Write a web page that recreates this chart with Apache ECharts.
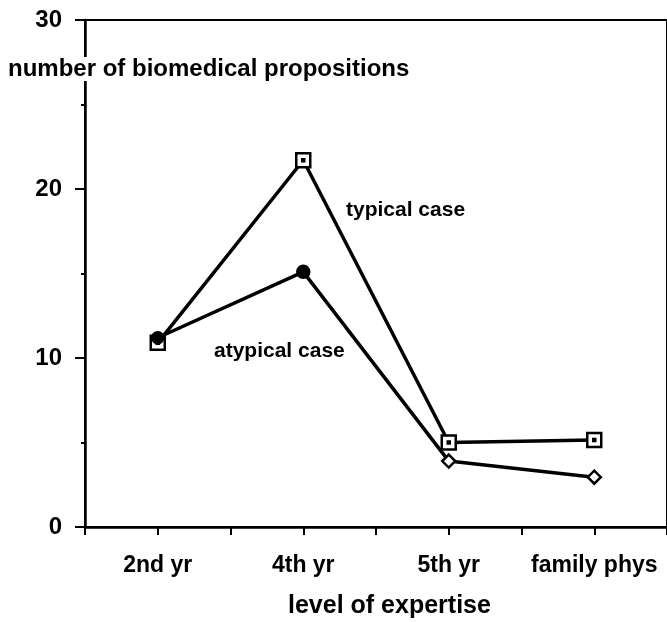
<!DOCTYPE html>
<html>
<head>
<meta charset="utf-8">
<script src="https://cdn.jsdelivr.net/npm/echarts@6/dist/echarts.min.js"></script>
<style>
html,body{margin:0;padding:0;background:#fff;}
#chart{width:667px;height:622px;}
</style>
</head>
<body>
<div id="chart"></div>
<script>
const categories = ['2nd yr', '4th yr', '5th yr', 'family phys'];
const typicalCase = [10.9, 21.7, 5.0, 5.15];
const atypicalCase = [11.2, 15.1, 3.9, 2.95];
const yTicks = [0, 10, 20, 30];

const FONT = '"Liberation Sans", Arial, sans-serif';
const squareDot = 'path://M0,0 L14,0 L14,14 L0,14 Z M6,6 L8,6 L8,8 L6,8 Z';
const atypSymbols = ['circle', 'circle', 'diamond', 'diamond'];
const atypFill = ['#000', '#000', '#fff', '#fff'];
const atypSize = [11, 12, 13, 13];

const chart = echarts.init(document.getElementById('chart'), null, {renderer: 'canvas'});

const option = {
  backgroundColor: '#fff',
  animation: false,
  grid: {
    left: 85, right: -7, top: 20, bottom: 95,
    show: true, borderColor: '#000', borderWidth: 2, backgroundColor: 'transparent'
  },
  xAxis: [
    {
      type: 'category', data: categories, boundaryGap: true,
      axisLine: {lineStyle: {color: '#000', width: 2.5}},
      axisTick: {show: true, alignWithLabel: false, length: 8, lineStyle: {color: '#000', width: 2}},
      axisLabel: {color: '#000', fontFamily: FONT, fontWeight: 'bold', fontSize: 23, margin: 27, interval: 0},
      splitLine: {show: false}
    },
    {
      type: 'category', data: categories, boundaryGap: true, position: 'bottom',
      axisLine: {show: false},
      axisTick: {show: true, alignWithLabel: true, length: 8, lineStyle: {color: '#000', width: 2}},
      axisLabel: {show: false},
      splitLine: {show: false}
    }
  ],
  yAxis: {
    type: 'value', min: yTicks[0], max: yTicks[yTicks.length - 1], interval: 10,
    axisLine: {show: true, lineStyle: {color: '#000', width: 2.5}},
    axisTick: {show: true, inside: false, length: 10, lineStyle: {color: '#000', width: 2}},
    minorTick: {show: true, splitNumber: 2, length: 4, lineStyle: {color: '#000', width: 2}},
    axisLabel: {color: '#000', fontFamily: FONT, fontWeight: 'bold', fontSize: 24, margin: 23},
    splitLine: {show: false}
  },
  series: [
    {
      name: 'typical case', type: 'line', xAxisIndex: 0,
      data: typicalCase,
      symbol: squareDot, symbolSize: 14,
      lineStyle: {color: '#000', width: 3.5},
      itemStyle: {color: '#fff', borderColor: '#000', borderWidth: 2.5},
      z: 3
    },
    {
      name: 'atypical case', type: 'line', xAxisIndex: 0,
      data: atypicalCase.map((v, i) => ({
        value: v,
        symbol: atypSymbols[i],
        symbolSize: atypSize[i],
        itemStyle: {color: atypFill[i], borderColor: '#000', borderWidth: 2.5}
      })),
      lineStyle: {color: '#000', width: 3.5},
      z: 4
    }
  ],
  graphic: [
    {
      type: 'text', left: 8, top: 57, z: 100,
      style: {text: 'number of biomedical propositions', fill: '#000', font: 'bold 24px ' + FONT, backgroundColor: '#fff'}
    },
    {
      type: 'text', left: 346, top: 200, z: 100,
      style: {text: 'typical case', fill: '#000', font: 'bold 21px ' + FONT}
    },
    {
      type: 'text', left: 214, top: 341, z: 100,
      style: {text: 'atypical case', fill: '#000', font: 'bold 21px ' + FONT}
    },
    {
      type: 'text', left: 288, top: 594, z: 100,
      style: {text: 'level of expertise', fill: '#000', font: 'bold 25px ' + FONT}
    }
  ]
};
chart.setOption(option);
</script>
</body>
</html>
